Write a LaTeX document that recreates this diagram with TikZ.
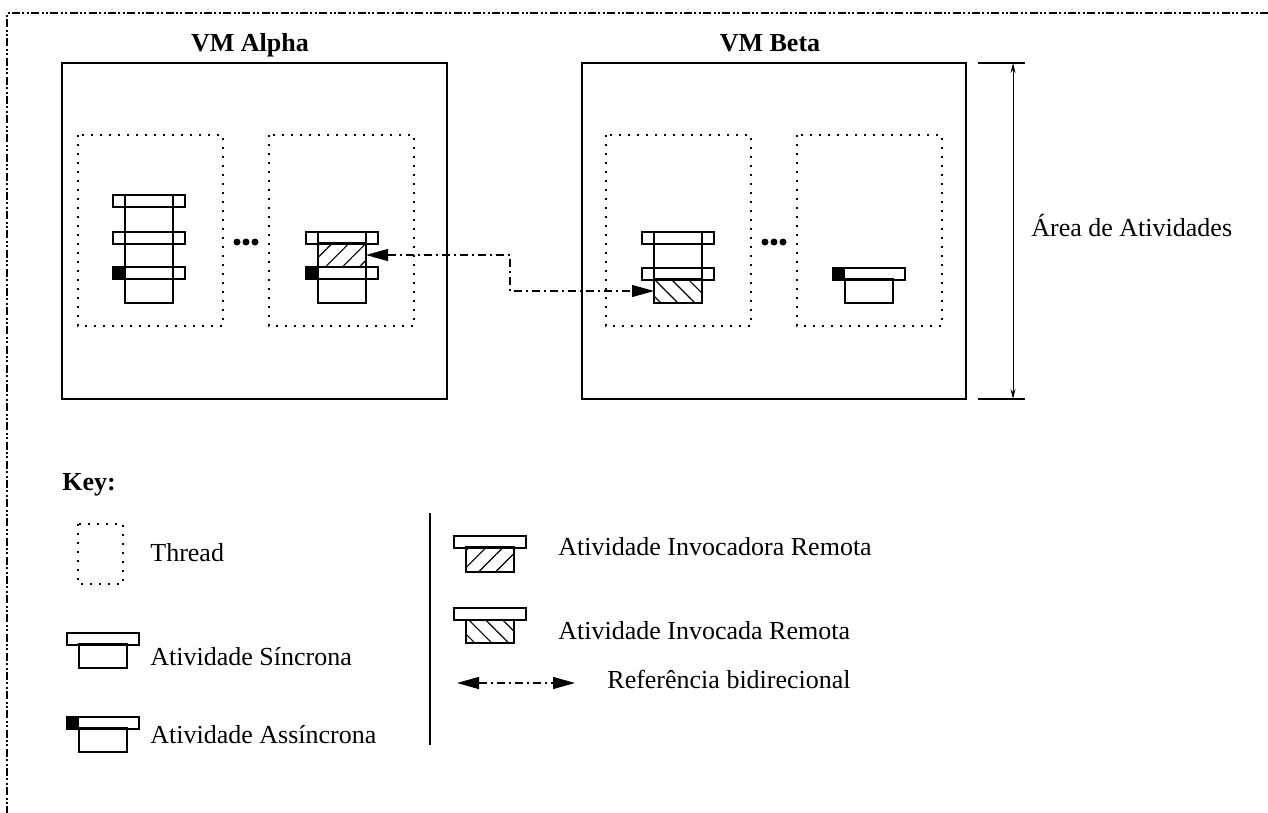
\documentclass[tikz,border=0pt]{standalone}
\usepackage{fontspec}
\setmainfont{Liberation Serif}
\usetikzlibrary{arrows.meta,patterns.meta}
\tikzset{
    box/.style={line width=0.7pt},
    thread/.style={line width=0.8pt, dash pattern=on 1pt off 3.5pt},
    frame/.style={line width=0.6pt, dash pattern=on 4pt off 1.2pt on 1pt off 1.2pt on 1pt off 1.2pt},
    ref/.style={line width=0.6pt, dash pattern=on 4pt off 2pt on 1pt off 2pt,
                {Triangle[length=11pt,width=6pt]}-{Triangle[length=11pt,width=6pt]}},
    txt/.style={font=\fontsize{13}{15}\selectfont, inner sep=0pt, anchor=base west},
    title/.style={txt, font=\fontsize{13}{15}\selectfont\bfseries},
    invoker/.style={pattern={Lines[angle=45,distance=6pt,line width=0.6pt]}},
    invoked/.style={pattern={Lines[angle=-45,distance=6pt,line width=0.6pt]}},
}
% activity pieces: bar with left corner at (x,y), body between two heights
\newcommand{\actbar}[2]{\draw[box] (#1,#2) rectangle ++(72,12);}
\newcommand{\actbody}[4][]{\draw[box,#1] (#2+12,#3) rectangle (#2+60,#4);}
\newcommand{\asyncmark}[2]{\fill (#1,#2) rectangle ++(12,12);}

\begin{document}
\begin{tikzpicture}[x=0.5pt,y=-0.5pt]
    \useasboundingbox (0,0) rectangle (1268,813);

    % Outer frame
    \draw[frame] (1268,13) -- (7,13) -- (7,813);

    % Virtual machines
    \draw[box] (62,63) rectangle (447,399);
    \draw[box] (582,63) rectangle (966,399);
    \node[title, anchor=base] (alpha) at (250,52) {VM Alpha};
    \node[title, anchor=base] (beta) at (770,52) {VM Beta};

    % Threads
    \foreach \x in {78,269,606,797}
        \draw[thread] (\x,135) rectangle ++(145,191);
    \foreach \x in {237,246,255,765,774,783}
        \fill (\x,242) circle (3.5);

    % Alpha, thread 1
    \actbody{113}{195}{303}
    \foreach \y in {195,232,267} {\actbar{113}{\y}}
    \asyncmark{113}{267}

    % Alpha, thread 2
    \actbody{306}{232}{303}
    \actbody[invoker]{306}{243}{267}
    \foreach \y in {232,267} {\actbar{306}{\y}}
    \asyncmark{306}{267}

    % Beta, thread 1
    \actbody{642}{232}{303}
    \actbody[invoked]{642}{279}{303}
    \foreach \y in {232,268} {\actbar{642}{\y}}

    % Beta, thread 2
    \actbody{833}{279}{303}
    \actbar{833}{268}
    \asyncmark{833}{268}

    % Remote reference
    \coordinate (caller) at (366,255);
    \coordinate (callee) at (654,291);
    \draw[ref] (caller) -- ++(144,0) |- (callee);

    % Activity area
    \draw[box] (978,63) -- (1025,63);
    \draw[box] (978,399) -- (1025,399);
    \coordinate (areatop) at (1013,63);
    \coordinate (areabot) at (1013,399);
    \draw[line width=0.5pt, {Stealth[length=5pt,width=2.5pt]}-{Stealth[length=5pt,width=2.5pt]}] (areatop) -- (areabot);
    \node[txt] (area) at (1031,236) {Área de Atividades};

    % Key
    \node[title] (key) at (62,490) {Key:};
    \draw[box] (430,513) -- (430,745);

    \draw[thread] (78,524) rectangle (123,584);
    \node[txt] (kthread) at (150,561) {Thread};

    \actbody{67}{644}{668}
    \actbar{67}{633}
    \node[txt] (ksync) at (150,665) {Atividade Síncrona};

    \actbody{67}{728}{752}
    \actbar{67}{717}
    \asyncmark{67}{717}
    \node[txt] (kasync) at (150,743) {Atividade Assíncrona};

    \actbody[invoker]{454}{547}{572}
    \actbar{454}{536}
    \node[txt] (kcaller) at (558,555) {Atividade Invocadora Remota};

    \actbody[invoked]{454}{620}{643}
    \actbar{454}{608}
    \node[txt] (kcallee) at (558,639) {Atividade Invocada Remota};

    \coordinate (kl) at (457,683);
    \coordinate (kr) at (575,683);
    \draw[ref] (kl) -- (kr);
    \node[txt] (kref) at (607,688) {Referência bidirecional};
\end{tikzpicture}
\end{document}
